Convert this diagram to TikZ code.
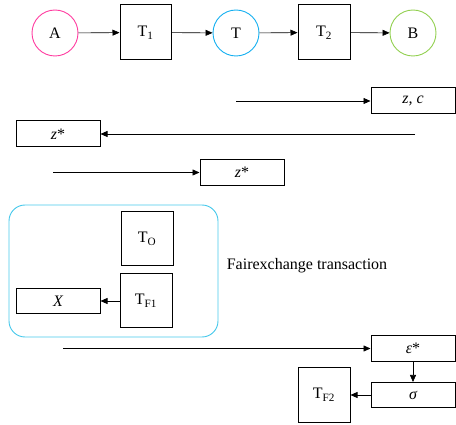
\documentclass[tikz,border=0pt]{standalone}
\usepackage{fontspec}
\setmainfont{Liberation Serif}
\usetikzlibrary{arrows.meta}
\definecolor{partyA}{RGB}{255,60,160}
\definecolor{partyT}{RGB}{20,175,240}
\definecolor{partyB}{RGB}{146,208,80}
\definecolor{groupframe}{RGB}{70,200,235}
\tikzset{
  party/.style={circle, draw=#1, line width=0.9pt, minimum size=46pt, inner sep=0pt},
  txbox/.style={draw, line width=1pt, minimum width=52pt, minimum height=54pt, inner sep=0pt},
  valbox/.style={draw, line width=1pt, minimum width=84pt, minimum height=26pt, inner sep=0pt},
  flow/.style={line width=0.6pt, -{Triangle[length=7pt,width=6pt]}},
}
\begin{document}
\begin{tikzpicture}[x=1pt, y=-1pt, font=\fontsize{16}{19}\selectfont]
\useasboundingbox (0,0) rectangle (456,425);

% chain of parties and transactions
\node[party=partyA] (A) at (55,33) {A};
\node[txbox, minimum width=51pt, minimum height=55pt] (T1) at (145.5,32.5) {T\textsubscript{1}};
\node[party=partyT] (T) at (236,33) {T};
\node[txbox, minimum height=55pt] (T2) at (324,32.5) {T\textsubscript{2}};
\node[party=partyB] (B) at (413,33) {B};
\draw[flow] (A) -- (T1);
\draw[flow] (T1) -- (T);
\draw[flow] (T) -- (T2);
\draw[flow] (T2) -- (B);

% exchanged values
\node[valbox] (zc) at (413,101) {\itshape z, c};
\node[valbox] (zs1) at (58,134) {\itshape z\upshape*};
\node[valbox] (zs2) at (242,172.5) {\itshape z\upshape*};
\coordinate (zcfrom) at (236,101);
\coordinate (zs1from) at (415,134);
\coordinate (zs2from) at (53,172.5);
\draw[flow] (zcfrom) -- (zc);
\draw[flow] (zs1from) -- (zs1);
\draw[flow] (zs2from) -- (zs2);

% fair exchange transaction group
\draw[groupframe, line width=0.9pt, rounded corners=16pt] (9,205) rectangle (218,337);
\node[txbox] (TO) at (147,239) {T\textsubscript{O}};
\node[txbox] (TF1) at (146,301) {T\textsubscript{F1}};
\node[valbox, minimum height=25pt] (X) at (58,301) {\itshape X};
\draw[flow] (TF1) -- (X);
\node (fx) at (307,266) {Fairexchange transaction};

% final exchange
\node[valbox] (eps) at (413,348.5) {\itshape ε\upshape*};
\node[valbox, minimum height=25pt] (sig) at (413,395) {\itshape σ};
\node[txbox] (TF2) at (324,395) {T\textsubscript{F2}};
\coordinate (epsfrom) at (63,348.5);
\draw[flow] (epsfrom) -- (eps);
\draw[flow] (eps) -- (sig);
\draw[flow] (sig) -- (TF2);
\end{tikzpicture}
\end{document}
